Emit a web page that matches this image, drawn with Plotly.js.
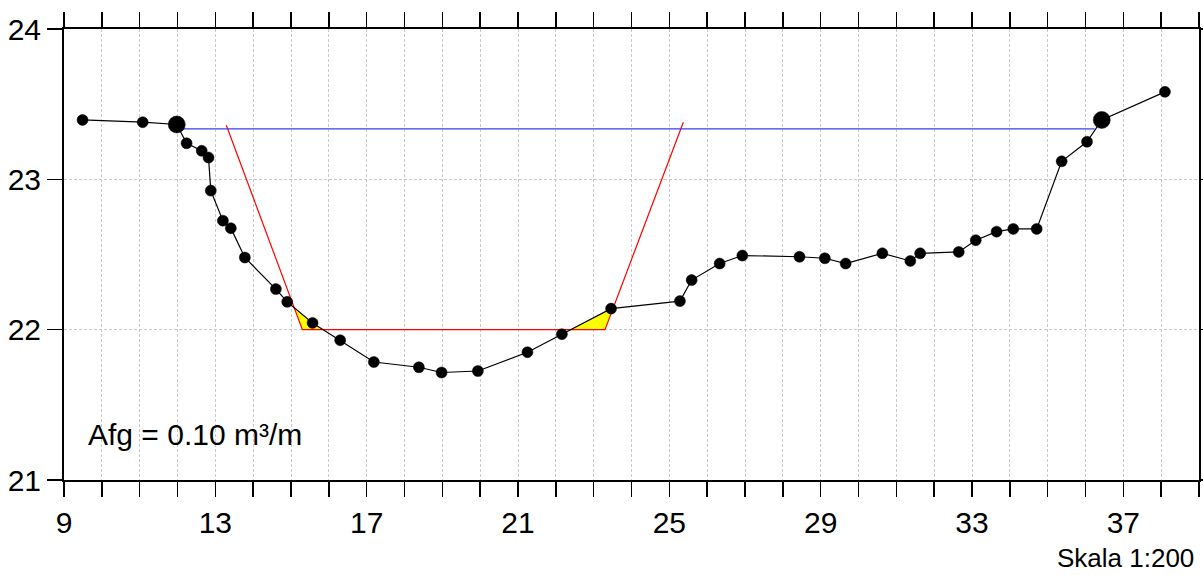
<!DOCTYPE html>
<html>
<head>
<meta charset="utf-8">
<script src="https://cdn.plot.ly/plotly-3.0.1.min.js"></script>
<style>html,body{margin:0;padding:0;background:#fff;}#chart{width:1203px;height:575px;}</style>
</head>
<body>
<div id="chart"></div>
<script>
// Terrain profile (station, level)
const terrainX = [9.49, 11.08, 11.98, 12.24, 12.64, 12.82, 12.88, 13.20, 13.41, 13.78, 14.60, 14.90, 15.57, 16.30, 17.19, 18.38, 18.98, 19.94, 21.25, 22.16, 23.46, 25.28, 25.59, 26.33, 26.93, 28.44, 29.11, 29.66, 30.63, 31.37, 31.63, 32.65, 33.10, 33.65, 34.09, 34.71, 35.37, 36.04, 36.43, 38.10];
const terrainY = [23.395, 23.38, 23.365, 23.24, 23.19, 23.145, 22.925, 22.725, 22.675, 22.48, 22.27, 22.185, 22.045, 21.93, 21.785, 21.75, 21.715, 21.725, 21.850, 21.970, 22.140, 22.190, 22.330, 22.440, 22.493, 22.485, 22.475, 22.440, 22.508, 22.457, 22.508, 22.517, 22.595, 22.652, 22.670, 22.670, 23.120, 23.250, 23.395, 23.582];
const bigPoints = [2, 38]; // indices drawn with large markers

// Design (channel) profile
const designX = [13.29, 15.30, 23.30, 25.37];
const designY = [23.36, 22.00, 22.00, 23.38];

// Water level
const waterX = [12.04, 36.24];
const waterY = [23.335, 23.335];

// Axis ticks
const xTickVals = [];
for (let v = 9; v <= 39; v++) xTickVals.push(v);
const xTickLabels = ['9','','','','13','','','','17','','','','21','','','','25','','','','29','','','','33','','','','37','',''];
const yTickVals = [21, 22, 23, 24];
const yTickLabels = ['21', '22', '23', '24'];

const excavationLabel = 'Afg = 0.10 m³/m';
const scaleLabel = 'Skala 1:200';

// --- compute excavation polygons (terrain above design) ---
function interp(xs, ys, x) {
  if (x <= xs[0]) return ys[0];
  if (x >= xs[xs.length - 1]) return ys[ys.length - 1];
  for (let i = 0; i < xs.length - 1; i++) {
    if (x >= xs[i] && x <= xs[i + 1]) {
      const t = (x - xs[i]) / (xs[i + 1] - xs[i]);
      return ys[i] + t * (ys[i + 1] - ys[i]);
    }
  }
}
function excavationPolys() {
  const x0 = designX[0], x1 = designX[designX.length - 1];
  let bp = terrainX.concat(designX).filter(v => v >= x0 && v <= x1);
  bp = Array.from(new Set(bp)).sort((a, b) => a - b);
  const pts = [];
  const f = x => interp(terrainX, terrainY, x) - interp(designX, designY, x);
  for (let i = 0; i < bp.length; i++) {
    pts.push(bp[i]);
    if (i < bp.length - 1) {
      const fa = f(bp[i]), fb = f(bp[i + 1]);
      if (fa * fb < 0) pts.push(bp[i] + (bp[i + 1] - bp[i]) * fa / (fa - fb));
    }
  }
  const polys = [];
  let cur = null;
  for (let i = 0; i < pts.length; i++) {
    const v = f(pts[i]);
    if (v >= -1e-9 && (cur || v > 1e-9 || (i + 1 < pts.length && f(pts[i + 1]) > 1e-9))) {
      if (!cur) cur = [];
      cur.push(pts[i]);
      if (v <= 1e-9 && cur.length > 1) { polys.push(cur); cur = null; }
    } else if (cur) { polys.push(cur); cur = null; }
  }
  if (cur) polys.push(cur);
  return polys.filter(p => p.length > 1).map(p => {
    const xs = [], ys = [];
    p.forEach(x => { xs.push(x); ys.push(interp(terrainX, terrainY, x)); });
    for (let k = p.length - 1; k >= 0; k--) { xs.push(p[k]); ys.push(interp(designX, designY, p[k])); }
    xs.push(xs[0]); ys.push(ys[0]);
    return {x: xs, y: ys};
  });
}

const traces = [];
excavationPolys().forEach(p => {
  traces.push({x: p.x, y: p.y, type: 'scatter', mode: 'lines', fill: 'toself',
    fillcolor: '#ffff00', line: {width: 0, color: '#ffff00'}, hoverinfo: 'skip', showlegend: false});
});
traces.push({x: designX, y: designY, type: 'scatter', mode: 'lines',
  line: {color: '#ff0000', width: 1.2}, showlegend: false});
traces.push({x: waterX, y: waterY, type: 'scatter', mode: 'lines',
  line: {color: '#3c3cf0', width: 1.2}, showlegend: false});
traces.push({x: terrainX, y: terrainY, type: 'scatter', mode: 'lines+markers',
  line: {color: '#000000', width: 1.2},
  marker: {color: '#000000', opacity: 1, size: terrainX.map((_, i) => bigPoints.includes(i) ? 17 : 11),
           line: {color: '#000000', width: 0.5}},
  showlegend: false});

const fontFam = 'Liberation Sans, Arial, sans-serif';
const gridCol = '#c8c8c8';
const layout = {
  width: 1203, height: 575,
  margin: {l: 64, r: 4, t: 29, b: 95},
  paper_bgcolor: '#ffffff', plot_bgcolor: '#ffffff',
  showlegend: false,
  font: {family: fontFam, color: '#000000', size: 30},
  xaxis: {
    range: [9, 39], tickmode: 'array', tickvals: xTickVals, ticktext: xTickLabels,
    ticks: 'outside', ticklen: 15, tickwidth: 1.5, tickcolor: '#000',
    showline: true, linecolor: '#000', linewidth: 2, mirror: 'allticks',
    showgrid: true, gridcolor: gridCol, gridwidth: 1, griddash: '3px,2px',
    zeroline: false, tickfont: {size: 30, family: fontFam}, ticklabelstandoff: 0
  },
  yaxis: {
    range: [21, 24], tickmode: 'array', tickvals: yTickVals, ticktext: yTickLabels,
    ticks: 'outside', ticklen: 15, tickwidth: 1.5, tickcolor: '#000',
    showline: true, linecolor: '#000', linewidth: 2, mirror: 'allticks',
    showgrid: true, gridcolor: gridCol, gridwidth: 1, griddash: '3px,2px',
    zeroline: false, tickfont: {size: 30, family: fontFam}
  },
  annotations: [
    {text: excavationLabel, xref: 'x', yref: 'y', x: 9.58, y: 21.30, xanchor: 'left', yanchor: 'middle',
     showarrow: false, font: {size: 30, family: fontFam, color: '#000'}},
    {text: scaleLabel, xref: 'paper', yref: 'paper', x: 0.997, y: -0.172, xanchor: 'right', yanchor: 'middle',
     showarrow: false, font: {size: 26, family: fontFam, color: '#000'}}
  ]
};

Plotly.newPlot('chart', traces, layout, {displayModeBar: false, staticPlot: true});
</script>
</body>
</html>
